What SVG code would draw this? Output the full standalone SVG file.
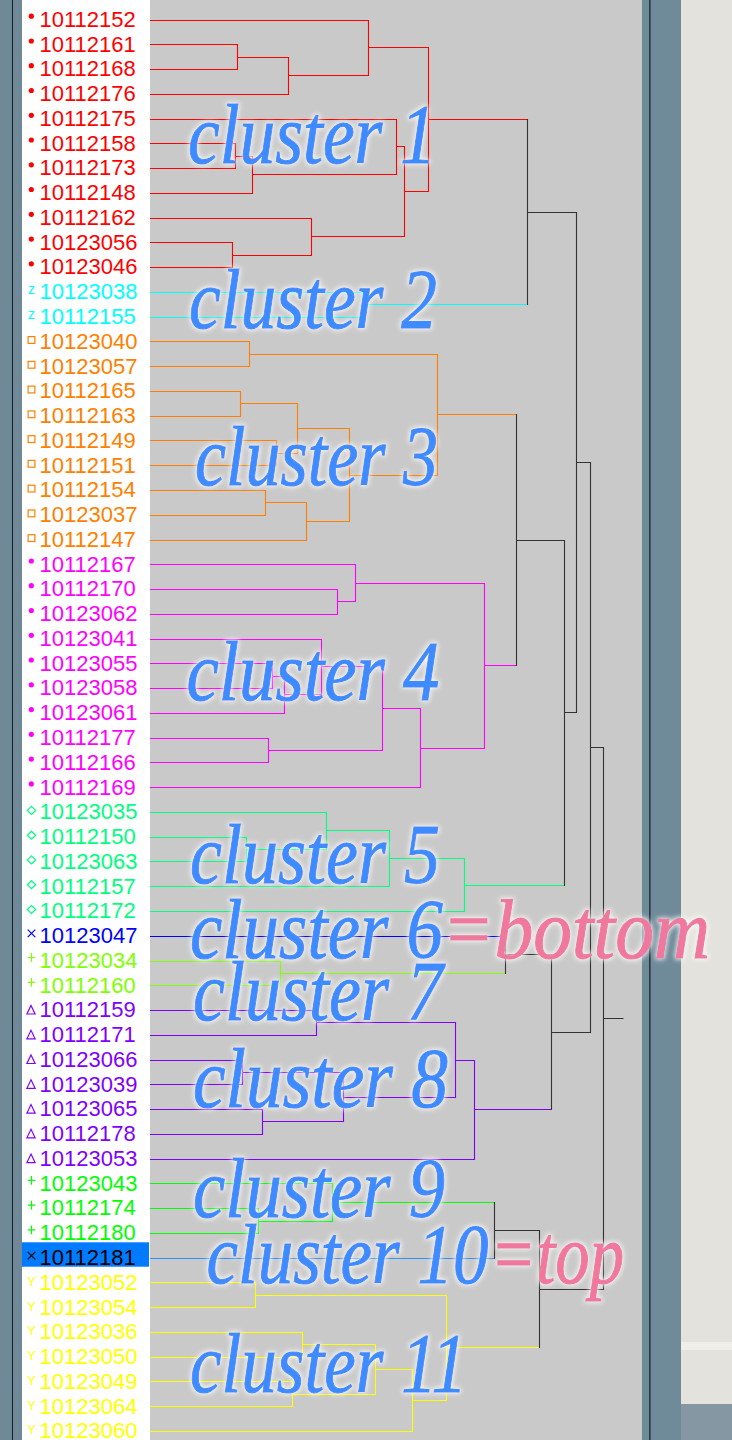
<svg xmlns="http://www.w3.org/2000/svg" width="732" height="1440" viewBox="0 0 732 1440">
<style>
.lbl{font-family:"Liberation Sans",Arial,sans-serif;font-size:22px;fill:currentColor}
.sym{font-family:"Liberation Sans",Arial,sans-serif;fill:currentColor;text-anchor:middle}
.mk{fill:none;stroke:currentColor;stroke-width:1.2}
.dot{fill:currentColor}
.red{color:#ff0000}.cyan{color:#00ffff}.orange{color:#ff8000}.mag{color:#ff00ff}.spring{color:#00ff80}.blue{color:#0000ff}.chart{color:#80ff00}.purple{color:#8000ff}.green{color:#00ff00}.yellow{color:#ffff00}.sel{color:#000000}
#connectors path{fill:none;stroke-width:1.1}
.sr{stroke:#ff0000}.sc{stroke:#00ffff}.so{stroke:#ff8000}.sm{stroke:#ff00ff}.ss{stroke:#00ff80}.sb{stroke:#0000ff}.sh{stroke:#80ff00}.sp{stroke:#8000ff}.sg{stroke:#00ff00}.sl{stroke:#2f8fff}.sy{stroke:#ffff00}.sk{stroke:#333333;stroke-linecap:square}
.cl{font-family:"Liberation Serif","Times New Roman",serif;font-style:italic;font-size:84px;fill:#3d8bff;stroke:#3d8bff;stroke-width:1}
.pk{fill:#f0789e;stroke:#f0789e}
</style>
<defs>
<circle id="mDot" r="2.6" class="dot"/>
<rect id="mSq" x="-3.4" y="-3.4" width="6.8" height="6.8" class="mk"/>
<path id="mDia" d="M0-4L4.2 0L0 4L-4.2 0Z" class="mk"/>
<path id="mX" d="M-3.8-3.8L3.8 3.8M3.8-3.8L-3.8 3.8" class="mk"/>
<path id="mPl" d="M-3.7 0H3.7M0-4.4V4.4" class="mk"/>
<path id="mTri" d="M0-4.3L4.1 4.2H-4.1Z" class="mk"/>
<filter id="glow" x="-10%" y="-40%" width="120%" height="180%">
<feMorphology in="SourceAlpha" operator="dilate" radius="1" result="d"/>
<feGaussianBlur in="d" stdDeviation="2.5" result="b"/>
<feFlood flood-color="#ffffff" flood-opacity="0.85"/>
<feComposite in2="b" operator="in" result="g"/>
<feMerge><feMergeNode in="g"/><feMergeNode in="SourceGraphic"/></feMerge>
</filter>
</defs>

<g id="background">
<rect x="0" y="0" width="22" height="1440" fill="#708998"/>
<rect x="12" y="0" width="1" height="1440" fill="#151d22"/>
<rect x="22" y="0" width="128" height="1440" fill="#ffffff"/>
<rect x="150" y="0" width="492" height="1440" fill="#c9c9c9"/>
<rect x="642" y="0" width="39" height="1440" fill="#6f8a99"/>
<rect x="649" y="0" width="1.6" height="1440" fill="#2b3740"/>
<rect x="681" y="0" width="51" height="1440" fill="#e3e2dd"/>
<rect x="681" y="1342" width="51" height="8" fill="#efeee9"/>
<rect x="681" y="1404" width="51" height="36" fill="#8597a3"/>
<rect x="22" y="1242.3" width="127" height="24.4" fill="#007aff"/>
</g>

<g id="connectors">
<path class="sr" d="M150 44.5H237.5V69.5H150M237.5 57.5H288.5V94.5H150M150 20.5H368.5V75.5H288.5M150 143.5H235.5V168.5H150M235.5 156.5H252.5V193.5H150M150 119.5H396.5V174.5H252.5M150 242.5H232.5V267.5H150M150 218.5H311.5V255.5H232.5M396.5 146.5H404.5V236.5H311.5M368.5 47.5H428.5V191.5H404.5M428.5 119.5H527.5"/>
<path class="sc" d="M150 292.5H362.5V317.5H150M362.5 304.5H527.5"/>
<path class="so" d="M150 341.5H249.5V366.5H150M150 391.5H240.5V416.5H150M150 440.5H276.5V465.5H150M240.5 403.5H297.5V453.5H276.5M150 490.5H265.5V515.5H150M265.5 502.5H306.5V540.5H150M297.5 428.5H349.5V521.5H306.5M249.5 354.5H437.5V475.5H349.5M437.5 414.5H516.5"/>
<path class="sm" d="M150 589.5H337.5V614.5H150M150 564.5H355.5V601.5H337.5M150 663.5H272.5V688.5H150M272.5 676.5H284.5V713.5H150M150 639.5H321.5V694.5H284.5M150 738.5H268.5V762.5H150M321.5 666.5H382.5V750.5H268.5M382.5 708.5H420.5V787.5H150M355.5 583.5H484.5V748.5H420.5M484.5 665.5H516.5"/>
<path class="ss" d="M150 837.5H246.5V861.5H150M150 812.5H326.5V849.5H246.5M326.5 830.5H389.5V886.5H150M389.5 858.5H464.5V911.5H150M464.5 885.5H564.5"/>
<path class="sb" d="M150 936.5H505.5"/>
<path class="sh" d="M150 961.5H280.5V985.5H150M280.5 973.5H505.5"/>
<path class="sp" d="M150 1010.5H316.5V1035.5H150M150 1060.5H242.5V1084.5H150M150 1109.5H262.5V1134.5H150M242.5 1072.5H343.5V1121.5H262.5M316.5 1022.5H455.5V1097.5H343.5M455.5 1060.5H474.5V1159.5H150M474.5 1109.5H551.5"/>
<path class="sg" d="M150 1208.5H258.5V1233.5H150M150 1183.5H332.5V1221.5H258.5M332.5 1202.5H494.5"/>
<path class="sl" d="M150 1258.5H494.5"/>
<path class="sy" d="M150 1282.5H255.5V1307.5H150M150 1332.5H302.5V1357.5H150M150 1381.5H292.5V1406.5H150M302.5 1344.5H375.5V1394.5H292.5M375.5 1369.5H412.5V1431.5H150M255.5 1295.5H446.5V1400.5H412.5M446.5 1347.5H539.5"/>
<path class="sk" d="M527.5 119.5V304.5M527.5 212.5H576.5M516.5 414.5V665.5M516.5 540.5H564.5M564.5 540.5V885.5M564.5 712.5H576.5M576.5 212.5V712.5M576.5 462.5H590.5M505.5 936.5V973.5M505.5 954.5H551.5M551.5 954.5V1109.5M551.5 1032.5H590.5M590.5 462.5V1032.5M590.5 747.5H603.5M494.5 1202.5V1258.5M494.5 1230.5H539.5M539.5 1230.5V1347.5M539.5 1289.5H603.5M603.5 747.5V1289.5M603.5 1018.5H623"/>
</g>

<g id="leaves">
<g id="leaf-10112152" class="red"><use href="#mDot" x="31.3" y="16.2"/><text class="lbl" x="39.5" y="26.8">10112152</text></g>
<g id="leaf-10112161" class="red"><use href="#mDot" x="31.3" y="41"/><text class="lbl" x="39.5" y="51.6">10112161</text></g>
<g id="leaf-10112168" class="red"><use href="#mDot" x="31.3" y="65.7"/><text class="lbl" x="39.5" y="76.3">10112168</text></g>
<g id="leaf-10112176" class="red"><use href="#mDot" x="31.3" y="90.5"/><text class="lbl" x="39.5" y="101.1">10112176</text></g>
<g id="leaf-10112175" class="red"><use href="#mDot" x="31.3" y="115.3"/><text class="lbl" x="39.5" y="125.9">10112175</text></g>
<g id="leaf-10112158" class="red"><use href="#mDot" x="31.3" y="140"/><text class="lbl" x="39.5" y="150.6">10112158</text></g>
<g id="leaf-10112173" class="red"><use href="#mDot" x="31.3" y="164.8"/><text class="lbl" x="39.5" y="175.4">10112173</text></g>
<g id="leaf-10112148" class="red"><use href="#mDot" x="31.3" y="189.5"/><text class="lbl" x="39.5" y="200.1">10112148</text></g>
<g id="leaf-10112162" class="red"><use href="#mDot" x="31.3" y="214.3"/><text class="lbl" x="39.5" y="224.9">10112162</text></g>
<g id="leaf-10123056" class="red"><use href="#mDot" x="31.3" y="239.1"/><text class="lbl" x="39.5" y="249.7">10123056</text></g>
<g id="leaf-10123046" class="red"><use href="#mDot" x="31.3" y="263.8"/><text class="lbl" x="39.5" y="274.4">10123046</text></g>
<g id="leaf-10123038" class="cyan"><text class="sym" x="31.5" y="294.2" font-size="14">z</text><text class="lbl" x="39.5" y="299.2">10123038</text></g>
<g id="leaf-10112155" class="cyan"><text class="sym" x="31.5" y="319" font-size="14">z</text><text class="lbl" x="39.5" y="324">10112155</text></g>
<g id="leaf-10123040" class="orange"><use href="#mSq" x="31.5" y="340"/><text class="lbl" x="39.5" y="348.7">10123040</text></g>
<g id="leaf-10123057" class="orange"><use href="#mSq" x="31.5" y="364.8"/><text class="lbl" x="39.5" y="373.5">10123057</text></g>
<g id="leaf-10112165" class="orange"><use href="#mSq" x="31.5" y="389.5"/><text class="lbl" x="39.5" y="398.2">10112165</text></g>
<g id="leaf-10112163" class="orange"><use href="#mSq" x="31.5" y="414.3"/><text class="lbl" x="39.5" y="423">10112163</text></g>
<g id="leaf-10112149" class="orange"><use href="#mSq" x="31.5" y="439.1"/><text class="lbl" x="39.5" y="447.8">10112149</text></g>
<g id="leaf-10112151" class="orange"><use href="#mSq" x="31.5" y="463.8"/><text class="lbl" x="39.5" y="472.5">10112151</text></g>
<g id="leaf-10112154" class="orange"><use href="#mSq" x="31.5" y="488.6"/><text class="lbl" x="39.5" y="497.3">10112154</text></g>
<g id="leaf-10123037" class="orange"><use href="#mSq" x="31.5" y="513.4"/><text class="lbl" x="39.5" y="522.1">10123037</text></g>
<g id="leaf-10112147" class="orange"><use href="#mSq" x="31.5" y="538.1"/><text class="lbl" x="39.5" y="546.8">10112147</text></g>
<g id="leaf-10112167" class="mag"><use href="#mDot" x="31.3" y="561"/><text class="lbl" x="39.5" y="571.6">10112167</text></g>
<g id="leaf-10112170" class="mag"><use href="#mDot" x="31.3" y="585.7"/><text class="lbl" x="39.5" y="596.3">10112170</text></g>
<g id="leaf-10123062" class="mag"><use href="#mDot" x="31.3" y="610.5"/><text class="lbl" x="39.5" y="621.1">10123062</text></g>
<g id="leaf-10123041" class="mag"><use href="#mDot" x="31.3" y="635.3"/><text class="lbl" x="39.5" y="645.9">10123041</text></g>
<g id="leaf-10123055" class="mag"><use href="#mDot" x="31.3" y="660"/><text class="lbl" x="39.5" y="670.6">10123055</text></g>
<g id="leaf-10123058" class="mag"><use href="#mDot" x="31.3" y="684.8"/><text class="lbl" x="39.5" y="695.4">10123058</text></g>
<g id="leaf-10123061" class="mag"><use href="#mDot" x="31.3" y="709.6"/><text class="lbl" x="39.5" y="720.2">10123061</text></g>
<g id="leaf-10112177" class="mag"><use href="#mDot" x="31.3" y="734.3"/><text class="lbl" x="39.5" y="744.9">10112177</text></g>
<g id="leaf-10112166" class="mag"><use href="#mDot" x="31.3" y="759.1"/><text class="lbl" x="39.5" y="769.7">10112166</text></g>
<g id="leaf-10112169" class="mag"><use href="#mDot" x="31.3" y="783.9"/><text class="lbl" x="39.5" y="794.5">10112169</text></g>
<g id="leaf-10123035" class="spring"><use href="#mDia" x="31.5" y="810.4"/><text class="lbl" x="39.5" y="819.2">10123035</text></g>
<g id="leaf-10112150" class="spring"><use href="#mDia" x="31.5" y="835.2"/><text class="lbl" x="39.5" y="844">10112150</text></g>
<g id="leaf-10123063" class="spring"><use href="#mDia" x="31.5" y="859.9"/><text class="lbl" x="39.5" y="868.7">10123063</text></g>
<g id="leaf-10112157" class="spring"><use href="#mDia" x="31.5" y="884.7"/><text class="lbl" x="39.5" y="893.5">10112157</text></g>
<g id="leaf-10112172" class="spring"><use href="#mDia" x="31.5" y="909.5"/><text class="lbl" x="39.5" y="918.3">10112172</text></g>
<g id="leaf-10123047" class="blue"><use href="#mX" x="31.5" y="933.4"/><text class="lbl" x="39.5" y="943">10123047</text></g>
<g id="leaf-10123034" class="chart"><use href="#mPl" x="31.5" y="957.5"/><text class="lbl" x="39.5" y="967.8">10123034</text></g>
<g id="leaf-10112160" class="chart"><use href="#mPl" x="31.5" y="982.3"/><text class="lbl" x="39.5" y="992.6">10112160</text></g>
<g id="leaf-10112159" class="purple"><use href="#mTri" x="31" y="1009.8"/><text class="lbl" x="39.5" y="1017.3">10112159</text></g>
<g id="leaf-10112171" class="purple"><use href="#mTri" x="31" y="1034.6"/><text class="lbl" x="39.5" y="1042.1">10112171</text></g>
<g id="leaf-10123066" class="purple"><use href="#mTri" x="31" y="1059.3"/><text class="lbl" x="39.5" y="1066.8">10123066</text></g>
<g id="leaf-10123039" class="purple"><use href="#mTri" x="31" y="1084.1"/><text class="lbl" x="39.5" y="1091.6">10123039</text></g>
<g id="leaf-10123065" class="purple"><use href="#mTri" x="31" y="1108.9"/><text class="lbl" x="39.5" y="1116.4">10123065</text></g>
<g id="leaf-10112178" class="purple"><use href="#mTri" x="31" y="1133.6"/><text class="lbl" x="39.5" y="1141.1">10112178</text></g>
<g id="leaf-10123053" class="purple"><use href="#mTri" x="31" y="1158.4"/><text class="lbl" x="39.5" y="1165.9">10123053</text></g>
<g id="leaf-10123043" class="green"><use href="#mPl" x="31.5" y="1180.4"/><text class="lbl" x="39.5" y="1190.7">10123043</text></g>
<g id="leaf-10112174" class="green"><use href="#mPl" x="31.5" y="1205.1"/><text class="lbl" x="39.5" y="1215.4">10112174</text></g>
<g id="leaf-10112180" class="green"><use href="#mPl" x="31.5" y="1229.9"/><text class="lbl" x="39.5" y="1240.2">10112180</text></g>
<g id="leaf-10112181" class="sel"><use href="#mX" x="31.5" y="1255.6"/><text class="lbl" x="39.5" y="1265">10112181</text></g>
<g id="leaf-10123052" class="yellow"><text class="sym" x="31.3" y="1285.8" font-size="12.5">Y</text><text class="lbl" x="39.5" y="1289.7">10123052</text></g>
<g id="leaf-10123054" class="yellow"><text class="sym" x="31.3" y="1310.6" font-size="12.5">Y</text><text class="lbl" x="39.5" y="1314.5">10123054</text></g>
<g id="leaf-10123036" class="yellow"><text class="sym" x="31.3" y="1335.3" font-size="12.5">Y</text><text class="lbl" x="39.5" y="1339.2">10123036</text></g>
<g id="leaf-10123050" class="yellow"><text class="sym" x="31.3" y="1360.1" font-size="12.5">Y</text><text class="lbl" x="39.5" y="1364">10123050</text></g>
<g id="leaf-10123049" class="yellow"><text class="sym" x="31.3" y="1384.9" font-size="12.5">Y</text><text class="lbl" x="39.5" y="1388.8">10123049</text></g>
<g id="leaf-10123064" class="yellow"><text class="sym" x="31.3" y="1409.6" font-size="12.5">Y</text><text class="lbl" x="39.5" y="1413.5">10123064</text></g>
<g id="leaf-10123060" class="yellow"><text class="sym" x="31.3" y="1434.4" font-size="12.5">Y</text><text class="lbl" x="39.5" y="1438.3">10123060</text></g>
</g>

<g id="cluster-labels" filter="url(#glow)">
<g id="label-cluster1"><text class="cl" x="188" y="163" textLength="248" lengthAdjust="spacingAndGlyphs">cluster 1</text></g>
<g id="label-cluster2"><text class="cl" x="189" y="328" textLength="248" lengthAdjust="spacingAndGlyphs">cluster 2</text></g>
<g id="label-cluster3"><text class="cl" x="195" y="485" textLength="243" lengthAdjust="spacingAndGlyphs">cluster 3</text></g>
<g id="label-cluster4"><text class="cl" x="186.5" y="700" textLength="253" lengthAdjust="spacingAndGlyphs">cluster 4</text></g>
<g id="label-cluster5"><text class="cl" x="190" y="883" textLength="250" lengthAdjust="spacingAndGlyphs">cluster 5</text></g>
<g id="label-cluster6"><text class="cl" x="190" y="958" textLength="253" lengthAdjust="spacingAndGlyphs">cluster 6</text><text class="cl pk" x="442" y="958" textLength="268" lengthAdjust="spacingAndGlyphs">=bottom</text></g>
<g id="label-cluster7"><text class="cl" x="193" y="1020" textLength="250" lengthAdjust="spacingAndGlyphs">cluster 7</text></g>
<g id="label-cluster8"><text class="cl" x="193" y="1107" textLength="255" lengthAdjust="spacingAndGlyphs">cluster 8</text></g>
<g id="label-cluster9"><text class="cl" x="193" y="1217" textLength="252" lengthAdjust="spacingAndGlyphs">cluster 9</text></g>
<g id="label-cluster10"><text class="cl" x="206.5" y="1283" textLength="282" lengthAdjust="spacingAndGlyphs">cluster 10</text><text class="cl pk" x="490" y="1283" textLength="134" lengthAdjust="spacingAndGlyphs">=top</text></g>
<g id="label-cluster11"><text class="cl" x="190" y="1392" textLength="277" lengthAdjust="spacingAndGlyphs">cluster 11</text></g>
</g>
</svg>
